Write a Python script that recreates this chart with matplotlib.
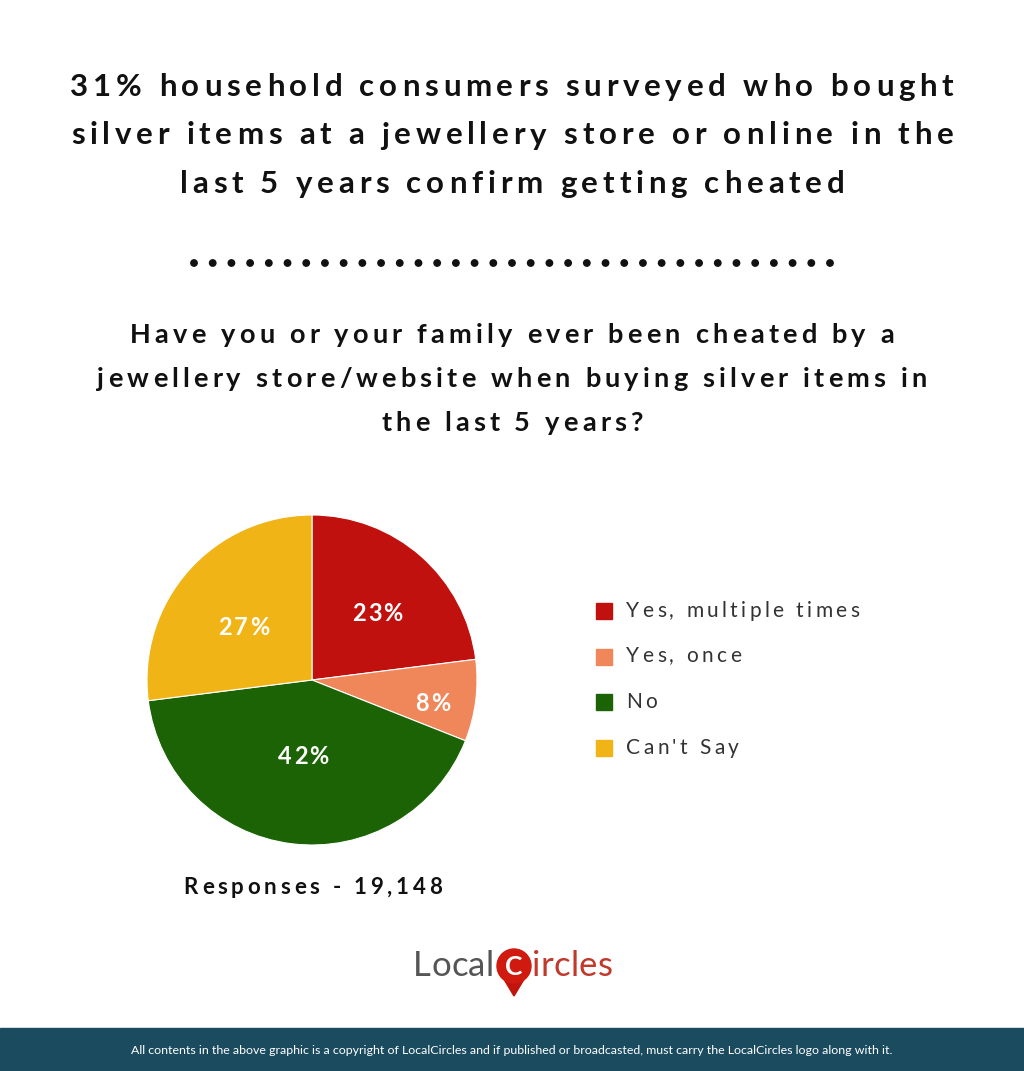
import matplotlib
matplotlib.use("Agg")
import matplotlib.pyplot as plt
import numpy as np
from matplotlib.patches import Rectangle, Circle, Polygon
from matplotlib.font_manager import FontProperties
from matplotlib.textpath import text_to_path

W, H = 1024, 1071
DPI = 100

labels = ["Yes, multiple times", "Yes, once", "No", "Can't Say"]
values = [23, 8, 42, 27]
colors = ["#c0110f", "#f0875a", "#1b6305", "#f0b416"]

title_lines = ["31% household consumers surveyed who bought",
               "silver items at a jewellery store or online in the",
               "last 5 years confirm getting cheated"]
question_lines = ["Have you or your family ever been cheated by a",
                  "jewellery store/website when buying silver items in",
                  "the last 5 years?"]
responses = "Responses - 19,148"
footer = ("All contents in the above graphic is a copyright of LocalCircles and if published or "
          "broadcasted, must carry the LocalCircles logo along with it.")

plt.rcParams["font.family"] = ["Lato", "DejaVu Sans"]

fig = plt.figure(figsize=(W / DPI, H / DPI), dpi=DPI)
bg = fig.add_axes([0, 0, 1, 1])
bg.set_xlim(0, W)
bg.set_ylim(H, 0)
bg.axis("off")


def spaced(ax, x, y, s, size, spacing, ha="center", weight="normal", color="#111111", zorder=3):
    # matplotlib has no letter-spacing, so place glyphs one by one (ax in pixel coords)
    fp = FontProperties(family="Lato", size=size, weight=weight)
    widths = []
    for ch in s:
        w, _, _ = text_to_path.get_text_width_height_descent(ch, fp, ismath=False)
        widths.append(w * DPI / 72.0)
    total = sum(widths) + spacing * (len(s) - 1)
    x0 = x - total / 2 if ha == "center" else x
    for ch, w in zip(s, widths):
        ax.text(x0, y, ch, ha="left", va="center", fontproperties=fp, color=color,
                zorder=zorder)
        x0 += w + spacing
    return total


for i, line in enumerate(title_lines):
    spaced(bg, 512, 87 + i * 48.5, line, 22.5, 4.8, weight="bold")
for i, line in enumerate(question_lines):
    spaced(bg, 512, 335 + i * 44, line, 19.5, 4.2, weight="bold")

# dotted separator
n_dots = 35
for i in range(n_dots):
    x = 194 + i * (830 - 194) / (n_dots - 1)
    bg.add_patch(Circle((x, 263), 3.2, color="#111111"))

spaced(bg, 313, 887, responses, 16, 3.8, weight="bold")

# legend
for i, (lab, col) in enumerate(zip(labels, colors)):
    y = 611 + i * 45.5
    bg.add_patch(Rectangle((596, y - 8), 16, 16, color=col))
    spaced(bg, 626, y, lab, 15, 3.4, ha="left", color="#333333")

# logo
spaced(bg, 413, 966, "Local", 25, 0.3, ha="left", color="#555555")
bg.add_patch(Polygon([[502, 976], [526, 976], [514, 996]], color="#c0140c"))
bg.add_patch(Circle((514, 966), 17, color="#d01a10"))
bg.text(514, 967, "C", ha="center", va="center", fontsize=19, fontweight="bold", color="white")
spaced(bg, 532, 966, "ircles", 25, 0.3, ha="left", color="#c0392b")

# footer band
bg.add_patch(Rectangle((0, 1028), W, H - 1028, color="#1b4b5f"))
bg.text(512, 1050, footer, ha="center", va="center", fontsize=8.9, color="white")

# pie
cx, cy, r = 312, 680, 165
ax = fig.add_axes([(cx - r) / W, (H - cy - r) / H, 2 * r / W, 2 * r / H])
wedges, texts = ax.pie(values, colors=colors, startangle=90, counterclock=False,
                       wedgeprops=dict(edgecolor="white", linewidth=0.8))
ax.set_xlim(-1, 1)
ax.set_ylim(-1, 1)
ax.set_aspect("equal")

# overlay in pixel coords for the percentage labels
top = fig.add_axes([0, 0, 1, 1])
top.set_xlim(0, W)
top.set_ylim(H, 0)
top.axis("off")
top.patch.set_alpha(0)
label_r = [0.6, 0.74, 0.42, 0.55]
for w, v, lr in zip(wedges, values, label_r):
    mid = np.deg2rad((w.theta1 + w.theta2) / 2)
    spaced(top, cx + lr * r * np.cos(mid), cy - lr * r * np.sin(mid) + 8, f"{v}%", 17, 2.0,
           weight="bold", color="white")

fig.savefig("out.png", dpi=DPI, facecolor="white")
